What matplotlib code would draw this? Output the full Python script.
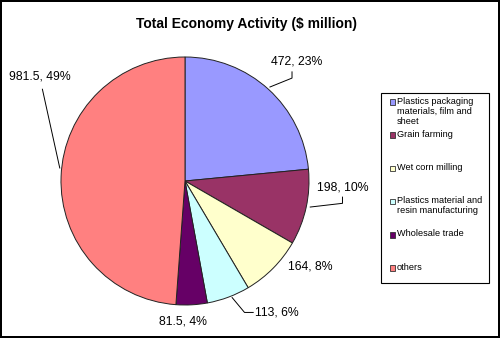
import matplotlib
matplotlib.use("Agg")
from matplotlib import pyplot as plt
from matplotlib.patches import Rectangle

categories = ["Plastics packaging\nmaterials, film and\nsheet", "Grain farming",
              "Wet corn milling", "Plastics material and\nresin manufacturing",
              "Wholesale trade", "others"]
values = [472, 198, 164, 113, 81.5, 981.5]
value_labels = ["472", "198", "164", "113", "81.5", "981.5"]
colors = ["#9999FF", "#993366", "#FFFFCC", "#CCFFFF", "#660066", "#FF8080"]

# label placement (pie data coords, radius 1) and leader line paths
label_pos = [(0.90, 0.96), (1.27, -0.05), (1.01, -0.69), (0.74, -1.06), (-0.02, -1.13), (-1.17, 0.84)]
leaders = [[(0.863, 0.88), (0.863, 0.83), (0.685, 0.758)],
           [(1.27, -0.13), (1.27, -0.18), (1.01, -0.21)],
           None,
           [(0.55, -1.06), (0.48, -1.06), (0.38, -0.94)],
           None,
           [(-1.15, 0.74), (-1.01, 0.105)]]

plt.rcParams['font.family'] = ['Liberation Sans', 'DejaVu Sans']

W, H = 500, 338
fig = plt.figure(figsize=(5, 3.38), dpi=100)
fig.patch.set_edgecolor("black")
fig.patch.set_linewidth(1.5)

cx, cy, r = 185, 181, 124
ax = fig.add_axes([(cx - r) / W, 1 - (cy + r) / H, 2 * r / W, 2 * r / H])
ax.pie(values, colors=colors, startangle=90, counterclock=False,
       wedgeprops=dict(edgecolor="#222222", linewidth=0.7))
ax.set_xlim(-1, 1)
ax.set_ylim(-1, 1)
ax.set_aspect("auto")

total = sum(values)
for i, v in enumerate(values):
    pct = round(v / total * 100)
    ax.text(label_pos[i][0], label_pos[i][1], f"{value_labels[i]}, {pct}%",
            ha="center", va="center", fontsize=8.8, clip_on=False)
    if leaders[i]:
        xs = [p[0] for p in leaders[i]]
        ys = [p[1] for p in leaders[i]]
        ax.plot(xs, ys, color="black", lw=0.7, clip_on=False)

fig.text(247 / W, 1 - 24 / H, "Total Economy Activity ($ million)",
         ha="center", va="center", fontsize=10, fontweight="bold")

# legend box
fig.add_artist(Rectangle((381 / W, 1 - 283 / H), 108 / W, 190 / H,
                         transform=fig.transFigure, facecolor="white",
                         edgecolor="black", linewidth=0.8))
for i, name in enumerate(categories):
    yc = 102 + 33.2 * i
    fig.add_artist(Rectangle((389.5 / W, 1 - (yc + 2.75) / H), 5.5 / W, 5.5 / H,
                             transform=fig.transFigure, facecolor=colors[i],
                             edgecolor="#333333", linewidth=0.6))
    fig.text(397 / W, 1 - (yc - 5.5) / H, name, ha="left", va="top",
             fontsize=6.6, linespacing=1.15)

fig.savefig("out.png", dpi=100)
